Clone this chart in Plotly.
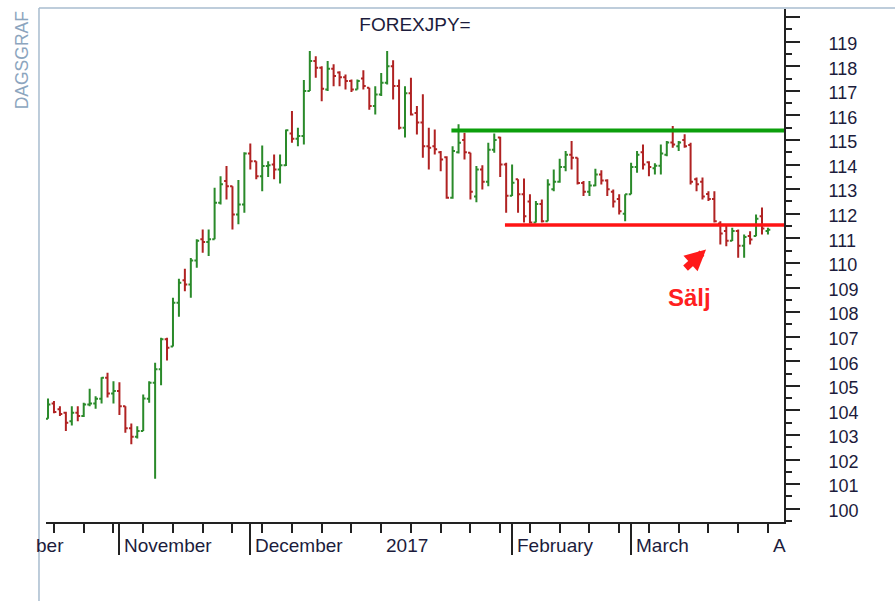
import pandas as pd
import plotly.graph_objects as go

# ---------------- data ----------------
dates = pd.bdate_range("2016-10-14", "2017-04-03")  # trading days shown

opens = [103.66, 104.28, 104.05, 103.90, 103.56, 103.90, 103.77, 104.24, 104.28, 104.47,
         105.33, 104.69, 104.79, 104.17, 103.27, 102.93, 103.16, 104.47, 105.13, 105.67,
         106.89, 106.60, 108.38, 109.30, 109.12, 110.10, 110.96, 110.85, 110.96, 112.45,
         113.33, 113.12, 111.97, 112.38, 114.45, 114.14, 113.53, 113.94, 114.00, 113.80,
         113.97, 115.26, 115.05, 115.16, 116.99, 118.21, 117.94, 117.06, 117.90, 117.75,
         117.55, 117.40, 117.06, 117.50, 117.13, 116.38, 116.85, 117.33, 118.00, 117.20,
         115.50, 116.90, 116.10, 115.71, 114.75, 114.75, 114.50, 114.30, 112.65, 114.50,
         115.00, 114.48, 112.70, 113.80, 113.30, 114.60, 115.10, 114.00, 112.73, 113.40,
         112.79, 112.50, 111.64, 112.40, 111.70, 113.00, 113.30, 113.90, 114.40, 114.28,
         113.25, 112.90, 113.15, 113.60, 113.35, 112.90, 112.60, 112.00, 112.79, 113.90,
         114.50, 114.10, 113.85, 113.95, 114.40, 114.90, 114.75, 115.00, 114.80, 113.40,
         113.30, 112.80, 112.60, 111.60, 111.30, 110.90, 111.30, 110.70, 111.10, 111.10,
         111.90, 111.30]
highs = [104.48, 104.38, 104.17, 103.95, 104.17, 104.17, 104.31, 104.88, 104.58, 105.35,
         105.53, 105.19, 105.15, 104.17, 103.47, 103.36, 104.65, 105.19, 105.94, 106.96,
         106.96, 108.58, 109.36, 109.76, 110.20, 110.96, 111.36, 111.36, 113.06, 113.53,
         113.94, 113.12, 113.37, 114.50, 114.86, 114.14, 114.78, 114.14, 114.41, 114.41,
         115.43, 116.18, 115.50, 117.44, 118.62, 118.41, 118.00, 118.21, 118.08, 117.80,
         117.67, 117.46, 117.46, 117.84, 117.13, 117.19, 117.73, 118.62, 118.24, 117.46,
         117.19, 117.53, 116.38, 116.86, 115.50, 115.43, 114.55, 114.34, 114.75, 115.64,
         115.30, 114.48, 113.94, 113.97, 114.89, 115.27, 115.13, 114.08, 114.00, 113.40,
         113.43, 112.79, 112.52, 112.58, 113.40, 113.80, 114.24, 114.55, 114.96, 114.28,
         113.33, 113.33, 113.83, 113.77, 113.40, 112.99, 112.79, 112.79, 114.08, 114.55,
         114.82, 114.14, 114.05, 114.82, 114.96, 115.57, 114.96, 115.23, 114.89, 113.47,
         113.47, 112.92, 112.92, 111.70, 111.50, 111.43, 111.36, 111.16, 111.29, 111.97,
         112.25, 111.43]
lows = [103.66, 103.88, 103.77, 103.16, 103.39, 103.56, 103.73, 104.17, 104.07, 104.28,
        104.52, 104.28, 103.81, 103.09, 102.62, 102.86, 103.16, 104.31, 101.22, 105.02,
        106.03, 106.60, 107.81, 108.85, 108.58, 109.80, 110.41, 110.28, 110.96, 112.38,
        112.58, 111.36, 111.57, 112.04, 113.80, 113.40, 112.92, 113.50, 113.40, 113.23,
        113.94, 114.89, 114.75, 114.82, 116.99, 117.53, 116.58, 116.99, 117.19, 117.19,
        117.06, 116.95, 117.06, 117.06, 116.23, 116.04, 116.79, 117.26, 116.65, 115.43,
        115.10, 116.00, 115.22, 114.28, 113.80, 114.41, 113.73, 112.61, 112.61, 114.45,
        114.21, 112.58, 112.47, 112.99, 113.12, 114.48, 113.50, 112.04, 112.72, 112.04,
        111.64, 111.60, 111.64, 111.64, 111.70, 112.92, 113.26, 113.73, 113.80, 113.19,
        112.72, 112.72, 113.12, 113.19, 112.72, 112.25, 111.97, 111.70, 112.79, 113.67,
        113.80, 113.53, 113.60, 113.60, 114.34, 114.69, 114.55, 114.69, 113.19, 112.92,
        112.58, 112.52, 111.64, 110.75, 110.68, 110.89, 110.21, 110.21, 110.75, 111.09,
        111.16, 111.16]
closes = [104.24, 103.93, 103.85, 103.50, 103.90, 103.77, 104.24, 104.28, 104.47, 105.33,
          104.69, 104.79, 104.17, 103.27, 102.93, 103.16, 104.48, 105.13, 105.67, 106.89,
          106.55, 108.38, 109.19, 109.12, 110.10, 110.90, 110.85, 110.96, 112.45, 113.20,
          113.12, 111.97, 112.38, 114.45, 114.14, 113.53, 113.94, 113.97, 113.80, 113.97,
          115.40, 115.05, 115.16, 116.99, 118.21, 117.94, 117.09, 117.90, 117.60, 117.55,
          117.40, 117.06, 117.40, 117.20, 116.38, 116.85, 117.33, 118.00, 117.20, 115.50,
          116.90, 116.04, 115.71, 114.75, 114.69, 114.62, 114.21, 112.65, 114.55, 114.89,
          114.50, 112.90, 113.80, 113.30, 114.60, 115.00, 114.00, 112.73, 113.26, 112.79,
          111.90, 111.64, 112.40, 111.70, 113.19, 113.30, 113.90, 114.40, 114.28, 113.25,
          112.90, 113.15, 113.60, 113.35, 113.00, 112.50, 112.10, 112.79, 113.90, 114.40,
          114.00, 113.90, 113.95, 114.45, 114.90, 114.82, 114.90, 114.75, 113.30, 113.20,
          112.70, 112.60, 111.70, 111.20, 110.90, 111.30, 110.70, 111.05, 110.95, 111.80,
          111.40, 111.35]

month_labels = ["November", "December", "2017", "February", "March", "A"]
clipped_first_label = "ber"
y_tick_values = list(range(100, 121))
y_tick_labels = [str(v) for v in range(100, 120)] + [""]

title_text = "FOREXJPY="
side_text = "DAGSGRAF"
signal_text = "Sälj"

resistance_level = 115.39
support_level = 111.54
resistance_start = "2017-01-18"
support_start = "2017-01-31"

# ---------------- derived ----------------
n = len(dates)
idx = list(range(n))
pos = {d.strftime("%Y-%m-%d"): i for i, d in enumerate(dates)}
month_starts = [i for i in range(1, n) if dates[i].month != dates[i - 1].month]
mondays = [i for i, d in enumerate(dates) if d.weekday() == 0]
x_lo, x_hi = -0.34, n + 1.7

GREEN = "#2a8a2a"
RED = "#b02222"
INK = "#1c1c3c"
FONT = "Liberation Sans, Arial, sans-serif"

fig = go.Figure()
fig.add_trace(go.Ohlc(
    x=idx, open=opens, high=highs, low=lows, close=closes,
    increasing=dict(line=dict(color=GREEN, width=2)),
    decreasing=dict(line=dict(color=RED, width=2)),
    tickwidth=0.4, showlegend=False, hoverinfo="skip"))

fig.add_trace(go.Scatter(
    x=[pos[resistance_start] - 0.2, x_hi], y=[resistance_level] * 2,
    mode="lines", line=dict(color="#0c9f0c", width=4), showlegend=False, hoverinfo="skip"))
fig.add_trace(go.Scatter(
    x=[pos[support_start] - 0.2, x_hi], y=[support_level] * 2,
    mode="lines", line=dict(color="#ff1414", width=3.5), showlegend=False, hoverinfo="skip"))

annotations = []
for i, lab in zip(month_starts, month_labels):
    annotations.append(dict(x=i, xref="x", y=0, yref="paper", text=lab, showarrow=False,
                            xanchor="left", yanchor="middle", xshift=3, yshift=-23.5,
                            font=dict(family=FONT, size=19, color=INK)))
annotations.append(dict(x=3.0, xref="x", y=0, yref="paper", text=clipped_first_label,
                        showarrow=False, xanchor="right", yanchor="middle", yshift=-23.5,
                        font=dict(family=FONT, size=19, color=INK)))
annotations.append(dict(x=-0.0325, xref="paper", y=0.9, yref="paper", text=side_text,
                        showarrow=False, textangle=-90, xanchor="center", yanchor="middle",
                        font=dict(family=FONT, size=17.5, color="#8ca5be")))
annotations.append(dict(x=107.9, xref="x", y=108.6, yref="y", text=f"<b>{signal_text}</b>",
                        showarrow=False, xanchor="center", yanchor="middle",
                        font=dict(family=FONT, size=24, color="#ff2020")))
annotations.append(dict(x=110.6, xref="x", y=110.55, yref="y", text="", showarrow=True,
                        ax=-22, ay=20, arrowcolor="#ff1a1a", arrowwidth=7, arrowhead=2,
                        arrowsize=0.6))

fig.update_layout(
    width=895, height=601,
    margin=dict(l=46, r=111, t=9, b=79),
    paper_bgcolor="white", plot_bgcolor="white",
    title=dict(text=title_text, x=0.5, xref="paper", xanchor="center",
               y=1 - 24 / 601, yref="container", yanchor="middle",
               font=dict(family=FONT, size=19, color=INK)),
    xaxis=dict(range=[x_lo, x_hi], showgrid=False, zeroline=False, rangeslider=dict(visible=False),
               showline=True, linecolor="#222", linewidth=2,
               tickmode="array", tickvals=month_starts, ticktext=[""] * len(month_starts),
               ticks="outside", ticklen=31, tickwidth=2, tickcolor="#222",
               showticklabels=False,
               minor=dict(tickmode="array", tickvals=mondays, ticks="outside",
                          ticklen=9, tickwidth=2, tickcolor="#222", showgrid=False)),
    yaxis=dict(range=[99.46, 120.33], side="right", showgrid=False, zeroline=False,
               showline=True, linecolor="#222", linewidth=2,
               tickmode="array", tickvals=y_tick_values, ticktext=y_tick_labels,
               ticks="outside", ticklen=14, tickwidth=2, tickcolor="#222",
               ticklabelstandoff=25, ticklabelshift=2,
               tickfont=dict(family=FONT, size=18, color=INK),
               minor=dict(dtick=0.5, tick0=0, ticks="outside", ticklen=6, tickwidth=2,
                          tickcolor="#222", showgrid=False)),
    annotations=annotations,
    shapes=[
        dict(type="line", xref="paper", yref="paper", x0=-0.0095, x1=-0.0095,
             y0=-0.16, y1=1.002, line=dict(color="#a8bccf", width=1.5)),
        dict(type="line", xref="paper", yref="paper", x0=-0.0095, x1=1.16,
             y0=1.002, y1=1.002, line=dict(color="#a8bccf", width=1.5)),
    ],
)

fig.write_html("out.html")
